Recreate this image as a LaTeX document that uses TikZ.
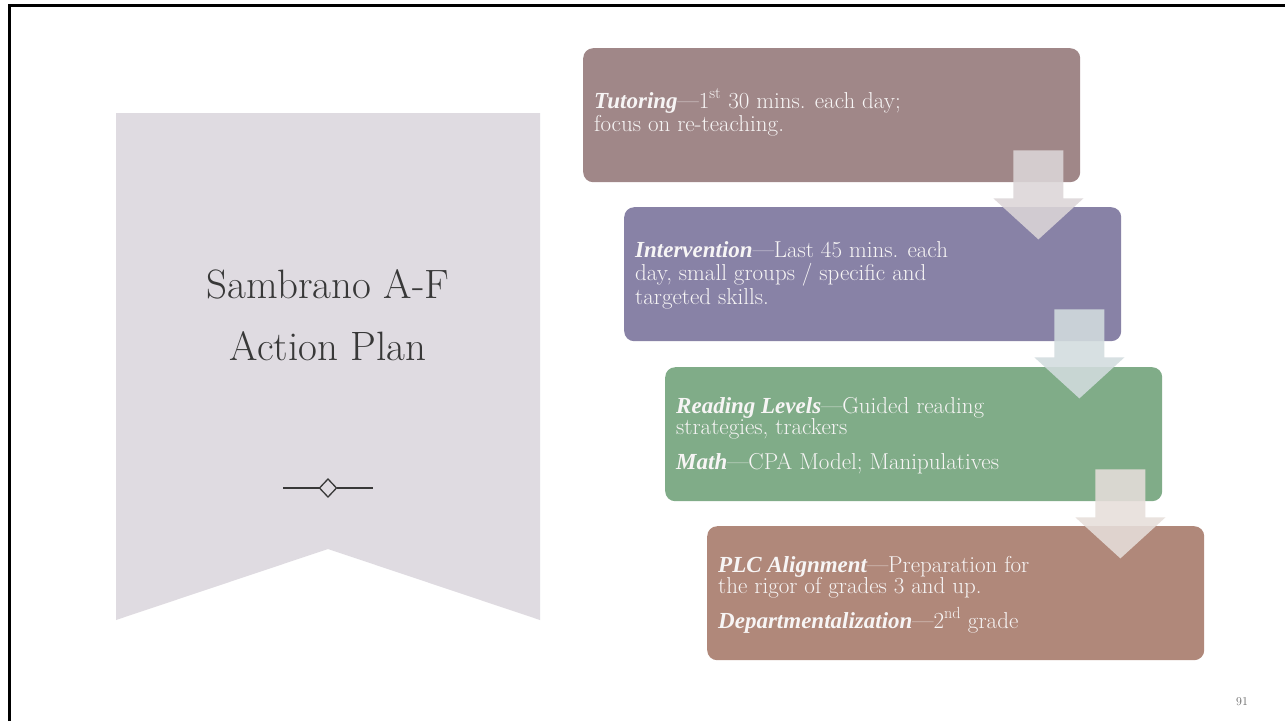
\documentclass[tikz,border=0pt]{standalone}
\usepackage{fontspec}
\newfontfamily\kwfont{Liberation Serif}
\newcommand{\kw}[1]{{\kwfont\bfseries\itshape #1}}
\usetikzlibrary{calc}
\definecolor{bannerc}{HTML}{DFDBE1}
\definecolor{boxA}{HTML}{A08788}
\definecolor{boxB}{HTML}{8882A6}
\definecolor{boxC}{HTML}{80AC88}
\definecolor{boxD}{HTML}{B0887A}
\definecolor{arrA}{HTML}{DCD6D8}
\definecolor{arrB}{HTML}{D2DCDE}
\definecolor{arrC}{HTML}{E6DEDA}
\definecolor{titlec}{HTML}{383838}
\definecolor{boxtext}{HTML}{F7F5F5}
\definecolor{pagenum}{HTML}{666666}
\newcommand{\flowarrow}[2]{\fill[flow, fill=#2] ($(#1.south east)+(-67,-32)$) -- ++(50,0) -- ++(0,48) -- ++(20,0) -- ++(-45,41) -- ++(-45,-41) -- ++(20,0) -- cycle;}
\begin{document}
\begin{tikzpicture}[x=1pt,y=-1pt,
  stepbox/.style={draw=none, rounded corners=10pt, minimum width=497pt, minimum height=134pt, anchor=north west, inner sep=0pt},
  boxline/.style={anchor=base west, inner sep=0pt, text=boxtext, font=\fontsize{23}{26}\selectfont},
  titletext/.style={anchor=north, inner sep=0pt, align=center, text=titlec, font=\fontsize{41}{62}\selectfont},
  ornament/.style={draw=titlec, line width=1.3pt},
  flow/.style={opacity=0.88}]

\useasboundingbox (0,0) rectangle (1285,721);
\fill[white] (0,0) rectangle (1285,721);
\draw[line width=3pt] (9.5,721) -- (9.5,5.5) -- (1285,5.5);

% banner
\fill[bannerc] (116,113) -- (540,113) -- (540,620) -- (328,549) -- (116,620) -- cycle;
\node[titletext] (title) at (328,269) {Sambrano A-F\\Action Plan};
\coordinate (orn) at (328,488);
\draw[ornament] ($(orn)+(-45,0)$) -- ($(orn)+(-8.5,0)$) ($(orn)+(8.5,0)$) -- ($(orn)+(45,0)$);
\draw[ornament] ($(orn)+(0,-9)$) -- ($(orn)+(8.5,0)$) -- ($(orn)+(0,9)$) -- ($(orn)+(-8.5,0)$) -- cycle;

% boxes
\node[stepbox, fill=boxA] (b1) at (583,48) {};
\node[stepbox, fill=boxB] (b2) at (624,207) {};
\node[stepbox, fill=boxC] (b3) at (665,367) {};
\node[stepbox, fill=boxD] (b4) at (707,526) {};

% texts
\node[boxline] (t1a) at ($(b1.north west)+(11,60)$) {\kw{Tutoring}—1\textsuperscript{st} 30 mins. each day;};
\node[boxline] (t1b) at ($(t1a.base west)+(0,23)$) {focus on re-teaching.};

\node[boxline] (t2a) at ($(b2.north west)+(11,50)$) {\kw{Intervention}—Last 45 mins. each};
\node[boxline] (t2b) at ($(t2a.base west)+(0,23.5)$) {day, small groups / specific and};
\node[boxline] (t2c) at ($(t2b.base west)+(0,23.5)$) {targeted skills.};

\node[boxline] (t3a) at ($(b3.north west)+(11,46)$) {\kw{Reading Levels}—Guided reading};
\node[boxline] (t3b) at ($(t3a.base west)+(0,21.5)$) {strategies, trackers};
\node[boxline] (t3c) at ($(t3b.base west)+(0,34.5)$) {\kw{Math}—CPA Model; Manipulatives};

\node[boxline] (t4a) at ($(b4.north west)+(11,46)$) {\kw{PLC Alignment}—Preparation for};
\node[boxline] (t4b) at ($(t4a.base west)+(0,21.5)$) {the rigor of grades 3 and up.};
\node[boxline] (t4c) at ($(t4b.base west)+(0,34.5)$) {\kw{Departmentalization}—2\textsuperscript{nd} grade};

% arrows
\flowarrow{b1}{arrA}
\flowarrow{b2}{arrB}
\flowarrow{b3}{arrC}

\node[text=pagenum, font=\fontsize{12}{14}\selectfont, inner sep=0pt] (page) at (1242,702) {91};
\end{tikzpicture}
\end{document}
